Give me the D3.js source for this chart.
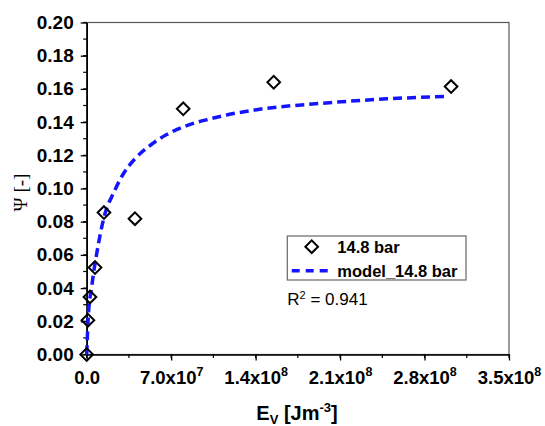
<!DOCTYPE html>
<html>
<head>
<meta charset="utf-8">
<script src="https://cdn.jsdelivr.net/npm/d3@7"></script>
<style>
  body { margin: 0; background: #fff; }
  text { font-family: "Liberation Sans", Arial, sans-serif; }
</style>
</head>
<body>
<div id="chart"></div>
<script>
// measured points (14.8 bar)
const measE = [0, 1.0e6, 2.7e6, 6.9e6, 1.43e7, 4.0e7, 8.0e7, 1.55e8, 3.02e8];
const measPsi = [0, 0.0207, 0.0347, 0.0524, 0.0855, 0.0818, 0.148, 0.164, 0.1614];

// model curve
const modelE = [0, 1.3e6, 4.1e6, 8.3e6, 1.52e7, 2.2e7, 3.04e7, 4.0e7, 5.25e7, 6.63e7, 8.29e7, 1.02e8, 1.16e8, 1.41e8, 1.94e8, 2.49e8, 2.99e8];
const modelPsi = [0, 0.0227, 0.0407, 0.0608, 0.0849, 0.0969, 0.1089, 0.1179, 0.1259, 0.1325, 0.1379, 0.1419, 0.1443, 0.1475, 0.1513, 0.154, 0.1555];

const xTicks = [0, 7e7, 1.4e8, 2.1e8, 2.8e8, 3.5e8];
const xTickMant = ['0.0', '7.0', '1.4', '2.1', '2.8', '3.5'];
const xTickExp = ['', '7', '8', '8', '8', '8'];
const yTicks = [0, 0.02, 0.04, 0.06, 0.08, 0.10, 0.12, 0.14, 0.16, 0.18, 0.20];

const width = 545, height = 426;
const margin = {top: 22.5, right: 36, bottom: 71.5, left: 86.7};

const svg = d3.select('#chart')
    .append('svg')
    .attr('width', width)
    .attr('height', height);

const x = d3.scaleLinear().domain([0, 3.5e8]).range([margin.left, width - margin.right]);
const y = d3.scaleLinear().domain([0, 0.2]).range([height - margin.bottom, margin.top]);

// frame
svg.append('rect')
    .attr('x', x(0)).attr('y', y(0.2))
    .attr('width', x(3.5e8) - x(0)).attr('height', y(0) - y(0.2))
    .attr('fill', 'none').attr('stroke', '#555').attr('stroke-width', 1.2);

// minor ticks
const g = svg.append('g');
g.selectAll('.xminor')
    .data(d3.range(0, 3.5e8 + 1, 3.5e7))
    .join('line')
    .attr('x1', d => x(d)).attr('x2', d => x(d))
    .attr('y1', y(0)).attr('y2', y(0) + 3.5)
    .attr('stroke', '#000').attr('stroke-width', 1.2);
g.selectAll('.yminor')
    .data(d3.range(0, 0.2001, 0.01))
    .join('line')
    .attr('y1', d => y(d)).attr('y2', d => y(d))
    .attr('x1', x(0)).attr('x2', x(0) - 3.5)
    .attr('stroke', '#000').attr('stroke-width', 1.2);

// x axis
const xAxis = svg.append('g')
    .attr('transform', `translate(0,${y(0)})`)
    .call(d3.axisBottom(x).tickValues(xTicks).tickSize(6).tickSizeOuter(0).tickFormat(''));
xAxis.select('.domain').attr('stroke-width', 1.6);
xAxis.selectAll('.tick line').attr('stroke-width', 1.3);
xAxis.selectAll('.tick').each(function(d, i) {
    const t = d3.select(this).append('text')
        .attr('y', 29)
        .attr('fill', '#000')
        .attr('text-anchor', 'middle')
        .style('font-size', '18.5px')
        .style('font-weight', 'bold');
    t.append('tspan').text(xTickMant[i] + (xTickExp[i] ? 'x10' : ''));
    if (xTickExp[i]) {
        t.append('tspan').attr('dy', -8).style('font-size', '12.5px').text(xTickExp[i]);
    }
});

// y axis
const yAxis = svg.append('g')
    .attr('transform', `translate(${x(0)},0)`)
    .call(d3.axisLeft(y).tickValues(yTicks).tickSize(6).tickSizeOuter(0).tickFormat(d3.format('.2f')));
yAxis.select('.domain').attr('stroke-width', 1.6);
yAxis.selectAll('.tick line').attr('stroke-width', 1.3);
yAxis.selectAll('.tick text')
    .attr('x', -13)
    .attr('fill', '#000')
    .style('font-size', '19px')
    .style('font-weight', 'bold')
    .style('font-family', '"Liberation Sans", Arial, sans-serif');

// axis titles
const xt = svg.append('text')
    .attr('x', 297).attr('y', 420)
    .attr('text-anchor', 'middle')
    .style('font-size', '20px').style('font-weight', 'bold');
xt.append('tspan').text('E');
xt.append('tspan').attr('dy', 4).style('font-size', '13px').text('V');
xt.append('tspan').attr('dy', -4).text(' [Jm');
xt.append('tspan').attr('dy', -8).style('font-size', '13px').text('-3');
xt.append('tspan').attr('dy', 8).text(']');

svg.append('text')
    .attr('transform', `translate(27,${(y(0) + y(0.2)) / 2 + 4}) rotate(-90)`)
    .attr('text-anchor', 'middle')
    .style('font-size', '19px')
    .style('font-family', '"Liberation Serif", serif')
    .text('Ψ [-]');

// model line
const line = d3.line()
    .x((d, i) => x(modelE[i]))
    .y((d, i) => y(modelPsi[i]))
    .curve(d3.curveMonotoneX);
svg.append('path')
    .datum(modelE)
    .attr('d', line)
    .attr('fill', 'none')
    .attr('stroke', '#1414ff')
    .attr('stroke-width', 3.5)
    .attr('stroke-dasharray', '9,5');

// measured points
const diamond = d3.symbol().type(d3.symbolSquare).size(80);
svg.selectAll('.pt')
    .data(measE)
    .join('path')
    .attr('d', diamond)
    .attr('transform', (d, i) => `translate(${x(d)},${y(measPsi[i])}) rotate(45)`)
    .attr('fill', 'none')
    .attr('stroke', '#000')
    .attr('stroke-width', 2);

// legend
const lg = svg.append('g');
lg.append('rect')
    .attr('x', 287.3).attr('y', 236).attr('width', 178.7).attr('height', 44)
    .attr('fill', '#fff').attr('stroke', '#666').attr('stroke-width', 1.2);
lg.append('path')
    .attr('d', diamond)
    .attr('transform', 'translate(311.7,246.7) rotate(45)')
    .attr('fill', 'none').attr('stroke', '#000').attr('stroke-width', 2);
lg.append('line')
    .attr('x1', 291.7).attr('x2', 329).attr('y1', 270.7).attr('y2', 270.7)
    .attr('stroke', '#1414ff').attr('stroke-width', 3.5).attr('stroke-dasharray', '8,6');
lg.append('text').attr('x', 337.3).attr('y', 252.5)
    .style('font-size', '16.5px').style('font-weight', 'bold').text('14.8 bar');
lg.append('text').attr('x', 337.3).attr('y', 276.5)
    .style('font-size', '16.5px').style('font-weight', 'bold').text('model_14.8 bar');

const r2 = svg.append('text').attr('x', 287.3).attr('y', 305)
    .style('font-size', '17px');
r2.append('tspan').text('R');
r2.append('tspan').attr('dy', -6).style('font-size', '11px').text('2');
r2.append('tspan').attr('dy', 6).text(' = 0.941');
</script>
</body>
</html>
